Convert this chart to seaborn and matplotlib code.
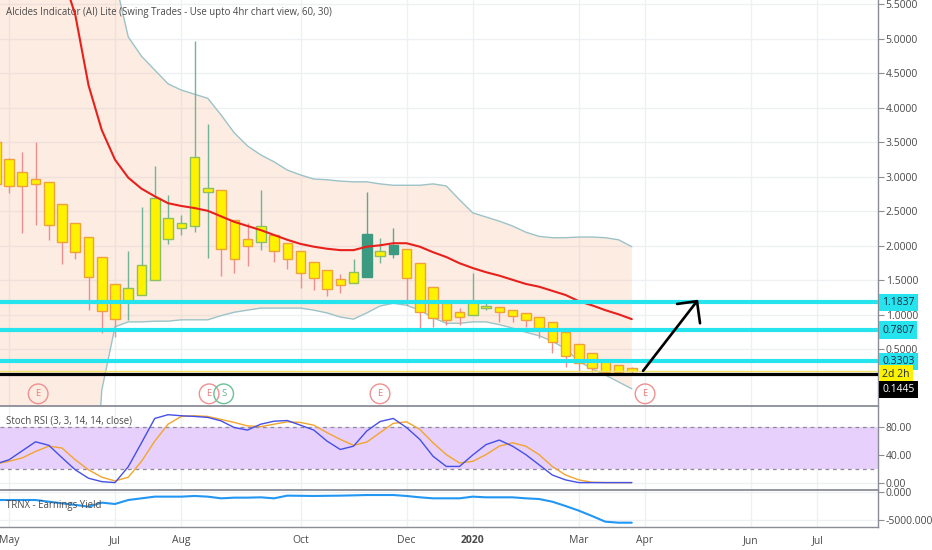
import numpy as np
import pandas as pd
import matplotlib
matplotlib.use('Agg')
import matplotlib.pyplot as plt
import seaborn as sns

# weekly bars, bar 0 = first week of May 2019
bar_idx = list(range(-1, 48))
bar_kind = (['d'] * 10 + ['u'] * 7 + ['d'] * 3 + ['u'] + ['d'] * 6 + ['u', 't', 'u', 't']
            + ['d'] * 5 + ['u'] * 2 + ['d'] * 11)

opens = [3.51, 3.26, 3.07, 2.97, 2.93, 2.61, 2.33, 2.13, 1.84, 1.45,
         1.20, 1.29, 1.51, 2.10, 2.26, 2.29, 2.78, 2.81, 2.38, 2.10,
         2.06, 2.16, 2.04, 1.93, 1.77, 1.65, 1.52, 1.46, 1.55, 1.86,
         2.01, 1.96, 1.75, 1.41, 1.17, 1.04, 1.00, 1.10, 1.12, 1.07,
         1.03, 0.97, 0.90, 0.75, 0.58, 0.45, 0.33, 0.28, 0.23]
highs = [3.52, 3.28, 3.36, 3.51, 2.93, 2.61, 2.33, 2.13, 1.84, 1.45,
         1.93, 2.57, 3.16, 2.74, 2.45, 4.97, 3.77, 2.81, 2.38, 2.33,
         2.81, 2.16, 2.04, 1.93, 1.77, 1.65, 1.59, 1.81, 2.78, 2.12,
         2.26, 1.96, 1.75, 1.41, 1.17, 1.10, 1.61, 1.22, 1.12, 1.07,
         1.03, 0.97, 0.90, 0.75, 0.58, 0.45, 0.33, 0.28, 0.24]
lows = [2.88, 2.77, 2.19, 2.30, 2.09, 1.74, 1.81, 1.07, 0.74, 0.68,
        0.93, 1.29, 1.51, 2.03, 2.16, 2.20, 1.83, 1.57, 1.61, 1.71,
        1.94, 1.77, 1.67, 1.39, 1.36, 1.28, 1.32, 1.46, 1.55, 1.75,
        1.83, 1.14, 0.78, 0.83, 0.86, 0.86, 1.00, 1.07, 0.90, 0.90,
        0.83, 0.67, 0.45, 0.25, 0.17, 0.17, 0.15, 0.15, 0.15]
closes = [2.90, 2.87, 2.87, 2.90, 2.30, 2.06, 1.91, 1.55, 1.06, 0.94,
          1.39, 1.72, 2.70, 2.41, 2.33, 3.29, 2.84, 1.96, 1.81, 2.00,
          2.29, 1.93, 1.81, 1.61, 1.54, 1.38, 1.43, 1.62, 2.17, 1.93,
          1.88, 1.54, 1.04, 0.96, 0.93, 0.97, 1.19, 1.13, 1.04, 0.99,
          0.93, 0.81, 0.61, 0.41, 0.30, 0.23, 0.17, 0.17, 0.19]

nan = np.nan
ma_line = [nan, nan, nan, nan, 6.90, 5.95, 5.35, 4.33, 3.68, 3.25,
           2.99, 2.83, 2.72, 2.62, 2.58, 2.55, 2.51, 2.43, 2.35, 2.29,
           2.23, 2.16, 2.09, 2.03, 1.99, 1.96, 1.94, 1.94, 1.99, 2.01,
           2.04, 2.04, 1.99, 1.91, 1.84, 1.75, 1.68, 1.62, 1.57, 1.51,
           1.45, 1.41, 1.35, 1.29, 1.20, 1.14, 1.07, 1.01, 0.94]
upper_band = [8.6, 8.4, 8.2, 8.0, 7.7, 7.4, 7.1, 6.8, 6.5, 5.86,
              5.03, 4.75, 4.55, 4.35, 4.26, 4.20, 4.14, 3.90, 3.64, 3.45,
              3.32, 3.22, 3.10, 3.03, 2.97, 2.96, 2.94, 2.93, 2.93, 2.90,
              2.88, 2.88, 2.88, 2.90, 2.87, 2.67, 2.48, 2.42, 2.36, 2.29,
              2.20, 2.14, 2.12, 2.12, 2.13, 2.13, 2.12, 2.09, 1.99]
lower_band = [-2.6, -2.8, -3.0, -3.1, -3.2, -3.2, -3.1, -3.0, -0.09, 0.83,
              0.90, 0.90, 0.91, 0.91, 0.93, 0.93, 0.93, 0.99, 1.04, 1.07,
              1.10, 1.10, 1.10, 1.10, 1.07, 1.03, 0.97, 0.94, 1.03, 1.13,
              1.17, 1.14, 1.07, 0.96, 0.88, 0.88, 0.90, 0.90, 0.86, 0.81,
              0.75, 0.70, 0.62, 0.51, 0.33, 0.22, 0.13, 0.03, -0.07]

stoch_k = [27, 33, 46, 59, 54, 36, 18.5, 6.3, 1.4, 0,
           23, 57.6, 92.8, 98.2, 96.7, 95.7, 94.3, 89.3, 79.6, 76,
           84.5, 88.8, 89.8, 83, 76, 60, 47.9, 52.7, 74.7, 88.3,
           92.8, 79.6, 62.5, 38.1, 23.4, 23.4, 40, 55, 61.5, 52.7,
           40.5, 25.8, 11, 3.9, 0, 0, 0, 0, 0]
stoch_d = [27, 30.8, 35.7, 45, 52.7, 50, 33, 18.5, 7.8, 2.4,
           7.8, 30.8, 60, 84.5, 95.7, 96.7, 95.7, 91.4, 87, 82,
           81, 84.5, 87.9, 87, 83, 72.3, 62.5, 54, 58.6, 72.3,
           85.7, 87.9, 77, 57.6, 40.5, 28.3, 30.8, 40.5, 52.7, 57.6,
           52.7, 40.5, 23.4, 11, 3.9, 0.5, 0, 0, 0]
earnings_yield = [-1430, -1430, -1430, -1430, -1730, -2020, -2300, -2620, -1900, -2140,
                  -1430, -1130, -830, -830, -830, -710, -830, -1130, -1010, -1010,
                  -950, -1130, -650, -680, -710, -680, -650, -600, -540, -540,
                  -540, -710, -950, -1130, -1130, -1130, -830, -950, -950, -950,
                  -1130, -1250, -1730, -2500, -3330, -4290, -5300, -5480, -5480]

levels = [1.1837, 0.7807, 0.3303]
level_black = 0.1445
arrow_x = [47.85, 51.92]
arrow_y = [0.19, 1.20]
head_x = [50.42, 51.92, 52.15]
head_y = [1.16, 1.20, 0.88]
earnings_bars = [2.2, 15.1, 28.0, 48.0]
split_bars = [16.2]

month_pos = [0, 8, 13, 22, 30, 35, 43, 48, 56, 61]
month_lbl = ['May', 'Jul', 'Aug', 'Oct', 'Dec', '2020', 'Mar', 'Apr', 'Jun', 'Jul']

df = pd.DataFrame({'bar': bar_idx, 'open': opens, 'high': highs, 'low': lows,
                   'close': closes, 'kind': bar_kind, 'ma': ma_line,
                   'upper': upper_band, 'lower': lower_band,
                   'k': stoch_k, 'd': stoch_d, 'ey': earnings_yield})

sns.set_theme(style='white')
plt.rcParams['font.family'] = ['Open Sans', 'DejaVu Sans']
TXT = '#4a4a4a'
AXC = '#8a8d96'
GRID = '#eef0f4'

W, H = 932, 550
fig = plt.figure(figsize=(W / 100, H / 100), dpi=100)


def pane(top, bottom):
    return fig.add_axes([0, (H - bottom) / H, 878 / W, (bottom - top) / H])


ax = pane(0, 406)
ax_rsi = pane(406, 490)
ax_ey = pane(490, 527)
XLIM = (-0.68, 65.58)

# --- price pane ---
ax.fill_between(df['bar'], df['lower'], df['upper'], color='#f7a072', alpha=0.2, lw=0, zorder=1)
sns.lineplot(data=df, x='bar', y='upper', ax=ax, color='#9cc3c8', lw=1, zorder=2)
sns.lineplot(data=df, x='bar', y='lower', ax=ax, color='#9cc3c8', lw=1, zorder=2)

styles = {'d': ('#fff200', '#f0a13a', '#eb8f8f'),
          'u': ('#fff200', '#8dbf5e', '#72b596'),
          't': ('#3c9a80', '#3c9a80', '#5aa88f')}
for kind, (face, edge, wick) in styles.items():
    sub = df[df['kind'] == kind]
    lo = np.minimum(sub['open'], sub['close'])
    hi = np.maximum(sub['open'], sub['close'])
    ax.vlines(sub['bar'], sub['low'], sub['high'], color=wick, lw=1, zorder=3)
    ax.bar(sub['bar'], hi - lo, bottom=lo, width=0.72, color=face,
           edgecolor=edge, linewidth=1, zorder=4)

sns.lineplot(data=df.dropna(subset=['ma']), x='bar', y='ma', ax=ax, color='#e8201c', lw=1.5, zorder=5)

for lv in levels:
    ax.axhline(lv, color='#26e4ee', lw=3, zorder=6)
ax.axhline(closes[-1], color='#f3e36a', lw=1, zorder=6)
ax.axhline(level_black, color='black', lw=2.3, zorder=7)
ax.plot(arrow_x, arrow_y, color='black', lw=1.9, zorder=8, solid_capstyle='round')
ax.plot(head_x, head_y, color='black', lw=1.9, zorder=8, solid_capstyle='round')

tr = ax.get_xaxis_transform()
ax.scatter(earnings_bars, [0.03] * len(earnings_bars), transform=tr, s=200,
           facecolors='none', edgecolors='#f09090', linewidths=1, zorder=9, clip_on=False)
ax.scatter(split_bars, [0.03] * len(split_bars), transform=tr, s=200,
           facecolors='none', edgecolors='#6cc096', linewidths=1, zorder=9, clip_on=False)
for xb in earnings_bars:
    ax.text(xb, 0.03, 'E', transform=tr, ha='center', va='center', fontsize=6.8, color='#e57f7f', zorder=10)
for xb in split_bars:
    ax.text(xb, 0.03, 'S', transform=tr, ha='center', va='center', fontsize=6.8, color='#5fb48a', zorder=10)

ax.set_ylim(-0.319, 5.565)
ax.set_yticks(np.arange(0.5, 5.51, 0.5))
ax.set_yticklabels([f'{v:.4f}' for v in np.arange(0.5, 5.51, 0.5)])
ax.text(0.007, 0.968, 'Alcides Indicator (AI) Lite (Swing Trades - Use upto 4hr chart view, 60, 30)',
        transform=ax.transAxes, ha='left', va='center', fontsize=6.9, color=TXT)


def tag(axis, y, text, face, color, dy=0):
    axis.annotate(text, xy=(1, y), xycoords=axis.get_yaxis_transform(), xytext=(3, dy),
                  textcoords='offset points', ha='left', va='center', fontsize=7.5, color=color,
                  bbox=dict(boxstyle='square,pad=0.3', fc=face, ec='none'),
                  annotation_clip=False, zorder=20)


for lv in levels:
    tag(ax, lv, f'{lv:.4f}', '#26e4ee', '#1d2a44')
tag(ax, level_black, '2d 2h', '#fff200', '#1d2a44')
tag(ax, level_black, f'{level_black:.4f}', 'black', 'white', dy=-11)

# --- stoch rsi pane ---
ax_rsi.axhspan(20, 80, color='#e7d0fb', lw=0, zorder=1)
ax_rsi.axhline(80, color='#8d8a99', lw=0.9, ls=(0, (3, 3)), zorder=2)
ax_rsi.axhline(20, color='#8d8a99', lw=0.9, ls=(0, (3, 3)), zorder=2)
sns.lineplot(data=df, x='bar', y='k', ax=ax_rsi, color='#4450e6', lw=1, zorder=4)
sns.lineplot(data=df, x='bar', y='d', ax=ax_rsi, color='#f2a52c', lw=1, zorder=3)
ax_rsi.set_ylim(-10.7, 110.8)
ax_rsi.set_yticks([0, 40, 80])
ax_rsi.set_yticklabels(['0.00', '40.00', '80.00'])
ax_rsi.text(0.007, 0.82, 'Stoch RSI (3, 3, 14, 14, close)', transform=ax_rsi.transAxes,
            ha='left', va='center', fontsize=6.9, color=TXT)

# --- earnings yield pane ---
sns.lineplot(data=df, x='bar', y='ey', ax=ax_ey, color='#2196f3', lw=1.5, zorder=3)
ax_ey.set_ylim(-6250, 357)
ax_ey.set_yticks([0, -5000])
ax_ey.set_yticklabels(['0.000', '-5000.000'])
ax_ey.text(0.007, 0.59, 'TRNX - Earnings Yield', transform=ax_ey.transAxes,
           ha='left', va='center', fontsize=6.9, color=TXT)

for a in (ax, ax_rsi, ax_ey):
    a.set_xlim(*XLIM)
    a.set_xlabel('')
    a.set_ylabel('')
    a.set_facecolor('white')
    a.set_axisbelow(True)
    a.set_xticks(month_pos)
    a.grid(True, color=GRID, lw=1)
    a.yaxis.tick_right()
    a.tick_params(axis='y', length=4, width=0.8, color=AXC, labelsize=7.5, labelcolor=TXT, pad=1.5)
    a.tick_params(axis='x', length=0, labelbottom=False)
    for s in ('left', 'top', 'bottom'):
        a.spines[s].set_visible(False)
    a.spines['right'].set_color(AXC)
    a.spines['right'].set_linewidth(1)

for a in (ax_rsi, ax_ey):
    a.spines['top'].set_visible(True)
    a.spines['top'].set_color(AXC)
    a.spines['top'].set_linewidth(1.3)

ax_ey.spines['bottom'].set_visible(True)
ax_ey.spines['bottom'].set_color(AXC)
ax_ey.spines['bottom'].set_linewidth(1)
ax_ey.tick_params(axis='x', length=3, width=0.8, color=AXC, labelbottom=True,
                  labelsize=7.5, labelcolor=TXT, pad=3)
ax_ey.set_xticklabels(month_lbl)
for t in ax_ey.get_xticklabels():
    if t.get_text() == '2020':
        t.set_fontweight('bold')

fig.savefig('out.png', dpi=100)
